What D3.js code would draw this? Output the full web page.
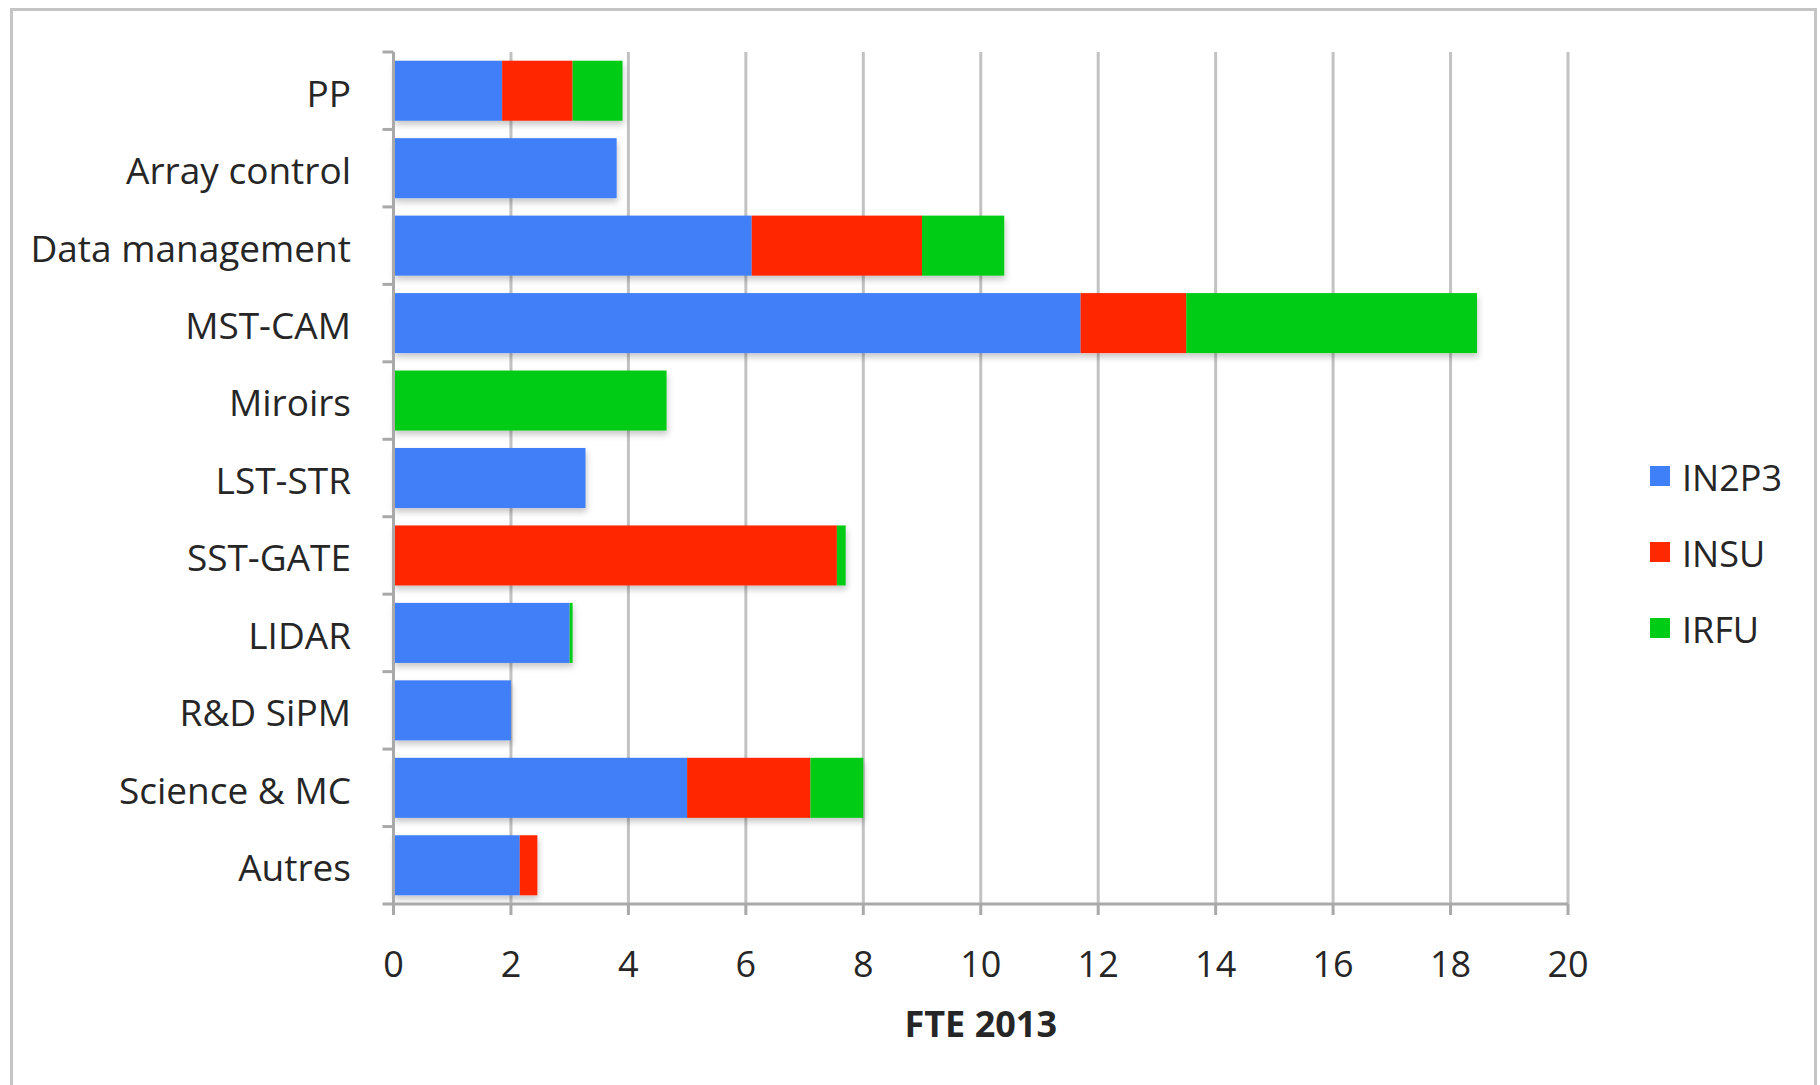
<!DOCTYPE html>
<html>
<head>
<meta charset="utf-8">
<script src="https://cdn.jsdelivr.net/npm/d3@7"></script>
<style>
  html, body { margin: 0; padding: 0; background: #fff; }
  svg { display: block; }
  text { font-family: "Open Sans", "DejaVu Sans", sans-serif; fill: #262626; }
</style>
</head>
<body>
<svg id="chart" width="1820" height="1085"></svg>
<script>
// FTE 2013 per work package, split by institute
const categories = ["PP", "Array control", "Data management", "MST-CAM", "Miroirs", "LST-STR",
                    "SST-GATE", "LIDAR", "R&D SiPM", "Science & MC", "Autres"];
const in2p3 = [1.85, 3.8, 6.1, 11.7, 0, 3.27, 0, 3.0, 2.0, 5.0, 2.15];
const insu  = [1.2, 0, 2.9, 1.8, 0, 0, 7.55, 0, 0, 2.1, 0.3];
const irfu  = [0.85, 0, 1.4, 4.95, 4.65, 0, 0.15, 0.05, 0, 0.9, 0];
const seriesNames = ["IN2P3", "INSU", "IRFU"];
const seriesColors = ["#3f7ff8", "#ff2800", "#00cc16"];
const xTicks = [0, 2, 4, 6, 8, 10, 12, 14, 16, 18, 20];
const xTitle = "FTE 2013";

const rows = categories.map((c, i) => ({ cat: c, IN2P3: in2p3[i], INSU: insu[i], IRFU: irfu[i] }));

const svg = d3.select("#chart");

// outer frame
svg.append("rect")
  .attr("x", 11.5).attr("y", 9.5).attr("width", 1804).attr("height", 1100)
  .attr("fill", "none").attr("stroke", "#c4c4c4").attr("stroke-width", 3);

const plotLeft = 393.5, plotRight = 1568, plotTop = 52, plotBottom = 904;

const x = d3.scaleLinear().domain([0, 20]).range([plotLeft, plotRight]);
const y = d3.scaleBand().domain(categories).range([plotTop, plotBottom]).paddingInner(0.225).paddingOuter(0.1125);

const defs = svg.append("defs");
const f = defs.append("filter").attr("id", "shadow").attr("x", "-5%").attr("y", "-20%").attr("width", "110%").attr("height", "150%");
f.append("feDropShadow").attr("dx", 1).attr("dy", 4).attr("stdDeviation", 3)
  .attr("flood-color", "#000").attr("flood-opacity", 0.22);

// vertical gridlines
svg.append("g").selectAll("line").data(xTicks.slice(1)).join("line")
  .attr("x1", d => x(d)).attr("x2", d => x(d))
  .attr("y1", plotTop).attr("y2", plotBottom)
  .attr("stroke", "#c2c2c2").attr("stroke-width", 3);

// stacked bars
const stack = d3.stack().keys(seriesNames);
const layers = stack(rows);

const barG = svg.append("g").attr("filter", "url(#shadow)");
barG.selectAll("g").data(layers).join("g")
  .attr("fill", (d, i) => seriesColors[i])
  .selectAll("rect").data(d => d.filter(s => s[1] - s[0] > 0)).join("rect")
  .attr("x", d => x(d[0]))
  .attr("width", d => x(d[1]) - x(d[0]))
  .attr("y", d => y(d.data.cat))
  .attr("height", y.bandwidth());

// y axis: line and boundary ticks
svg.append("line")
  .attr("x1", plotLeft).attr("x2", plotLeft).attr("y1", plotTop).attr("y2", plotBottom)
  .attr("stroke", "#a9a9a9").attr("stroke-width", 3);
svg.append("g").selectAll("line").data(d3.range(categories.length + 1)).join("line")
  .attr("x1", plotLeft - 11).attr("x2", plotLeft)
  .attr("y1", i => plotTop + (plotBottom - plotTop) * i / categories.length)
  .attr("y2", i => plotTop + (plotBottom - plotTop) * i / categories.length)
  .attr("stroke", "#a9a9a9").attr("stroke-width", 3);

// category labels
svg.append("g").selectAll("text").data(categories).join("text")
  .attr("x", 351)
  .attr("y", d => y(d) + y.bandwidth() / 2 + 3)
  .attr("dy", "0.35em")
  .attr("text-anchor", "end")
  .attr("font-size", 37)
  .text(d => d);

// x axis
svg.append("line")
  .attr("x1", plotLeft).attr("x2", plotRight).attr("y1", plotBottom).attr("y2", plotBottom)
  .attr("stroke", "#a9a9a9").attr("stroke-width", 3);
svg.append("g").selectAll("line").data(xTicks).join("line")
  .attr("x1", d => x(d)).attr("x2", d => x(d))
  .attr("y1", plotBottom).attr("y2", plotBottom + 11)
  .attr("stroke", "#a9a9a9").attr("stroke-width", 3);
svg.append("g").selectAll("text").data(xTicks).join("text")
  .attr("x", d => x(d))
  .attr("y", 964)
  .attr("dy", "0.35em")
  .attr("text-anchor", "middle")
  .attr("font-size", 36)
  .text(d => d);

svg.append("text")
  .attr("x", (plotLeft + plotRight) / 2)
  .attr("y", 1024)
  .attr("dy", "0.35em")
  .attr("text-anchor", "middle")
  .attr("font-size", 36)
  .attr("font-weight", "bold")
  .text(xTitle);

// legend
const legend = svg.append("g").selectAll("g").data(seriesNames).join("g")
  .attr("transform", (d, i) => `translate(1650, ${476 + i * 76})`);
legend.append("rect")
  .attr("x", 0).attr("y", -10).attr("width", 20).attr("height", 20)
  .attr("fill", (d, i) => seriesColors[i]);
legend.append("text")
  .attr("x", 32).attr("y", 2).attr("dy", "0.35em")
  .attr("font-size", 36)
  .text(d => d);
</script>
</body>
</html>
